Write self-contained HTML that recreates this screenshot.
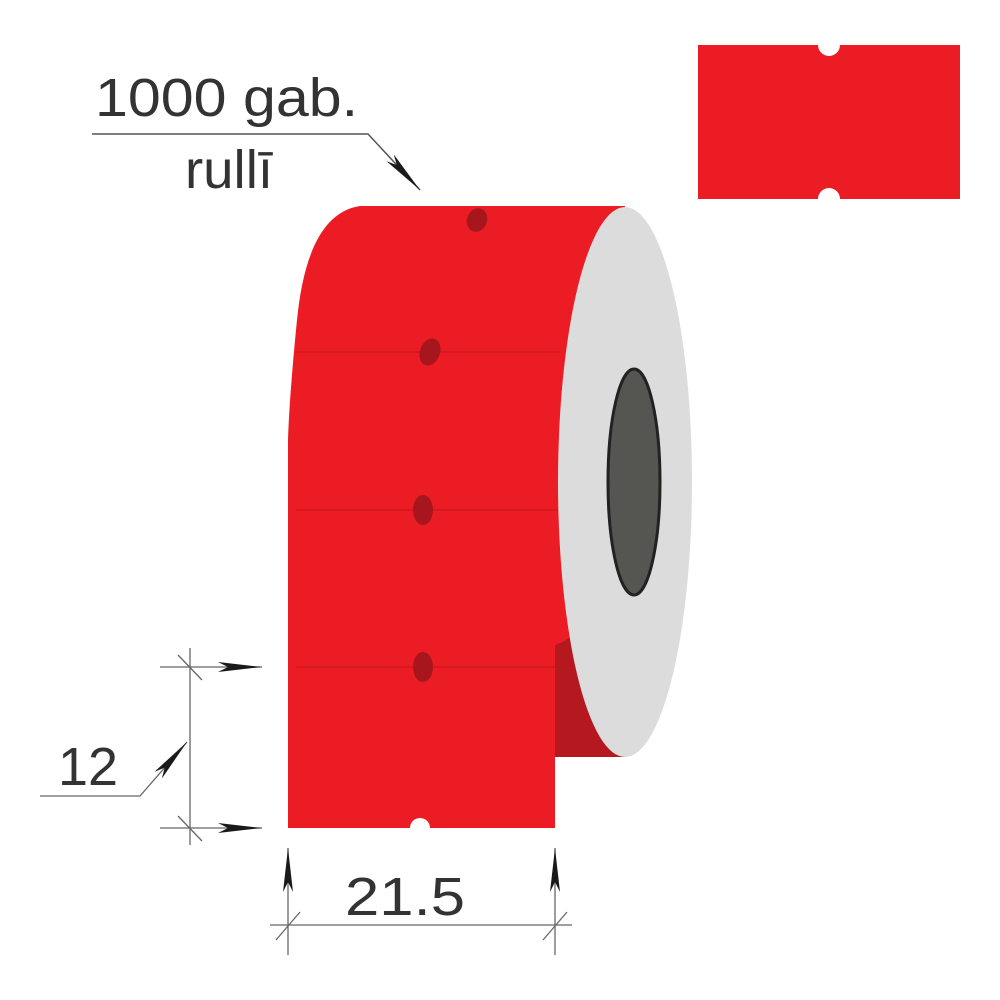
<!DOCTYPE html>
<html><head><meta charset="utf-8"><style>
html,body{margin:0;padding:0;background:#fff;}
svg{display:block;}
text{font-family:"Liberation Sans",sans-serif;fill:#333;}
</style></head><body>
<svg width="1000" height="1000" viewBox="0 0 1000 1000" xmlns="http://www.w3.org/2000/svg">
<defs>
<marker id="ar" viewBox="0 0 44 12" refX="44" refY="6" markerWidth="44" markerHeight="12" markerUnits="userSpaceOnUse" orient="auto">
<path d="M0,1 L44,6 L0,11 L10,6 Z" fill="#1a1a1a"/>
</marker>
</defs>
<path d="M698,45 H818 A11,11 0 0 0 840,45 H960 V199 H840 A11,11 0 0 0 818,199 H698 Z" fill="#ec1c24"/>
<path d="M360,206 H625 V757 H555 V828 H288 V440 C289,410 292,370 297,320 C303,260 320,212 360,206 Z" fill="#ec1c24"/>
<path d="M555,757 L625,757 L625,540 Q600,630 555,645 Z" fill="#b5191f"/>
<path d="M410,828 A10,10 0 0 1 430,828 Z" fill="#fff"/>
<g stroke="#c4161d" stroke-width="1.5" opacity="0.7">
<line x1="296" y1="352" x2="560" y2="352"/>
<line x1="296" y1="510" x2="560" y2="510"/>
<line x1="296" y1="667" x2="560" y2="667"/>
</g>
<g fill="#a8161d">
<ellipse cx="477" cy="220" rx="10" ry="12" transform="rotate(20 477 220)"/>
<ellipse cx="430" cy="352" rx="10" ry="14" transform="rotate(20 430 352)"/>
<ellipse cx="423" cy="510" rx="10" ry="15"/>
<ellipse cx="423" cy="667" rx="10" ry="15"/>
</g>
<ellipse cx="625" cy="482" rx="67" ry="275" fill="#dcdcdc"/>
<ellipse cx="634" cy="482" rx="26" ry="113" fill="#555552" stroke="#222" stroke-width="3"/>
<text x="95" y="116" font-size="54" textLength="263" lengthAdjust="spacingAndGlyphs">1000 gab.</text>
<text x="185" y="188" font-size="54" textLength="88" lengthAdjust="spacingAndGlyphs">rullī</text>
<polyline points="92,134 368,134 420,190" fill="none" stroke="#555" stroke-width="1.5" marker-end="url(#ar)"/>
<g stroke="#666" stroke-width="1.3" fill="none">
<line x1="190" y1="648" x2="190" y2="845"/>
<line x1="160" y1="667" x2="262" y2="667" marker-end="url(#ar)"/>
<line x1="160" y1="828" x2="262" y2="828" marker-end="url(#ar)"/>
<line x1="178" y1="655" x2="202" y2="680"/>
<line x1="178" y1="816" x2="202" y2="841"/>
<polyline points="40,796 140,796 187,742" marker-end="url(#ar)"/>
</g>
<text x="58" y="785" font-size="54" textLength="60" lengthAdjust="spacingAndGlyphs">12</text>
<g stroke="#666" stroke-width="1.3" fill="none">
<line x1="288" y1="955" x2="288" y2="848" marker-end="url(#ar)"/>
<line x1="555" y1="955" x2="555" y2="848" marker-end="url(#ar)"/>
<line x1="270" y1="925" x2="572" y2="925"/>
<line x1="276" y1="940" x2="300" y2="912"/>
<line x1="543" y1="940" x2="567" y2="912"/>
</g>
<text x="345" y="915" font-size="54" textLength="120" lengthAdjust="spacingAndGlyphs">21.5</text>
</svg>
</body></html>
